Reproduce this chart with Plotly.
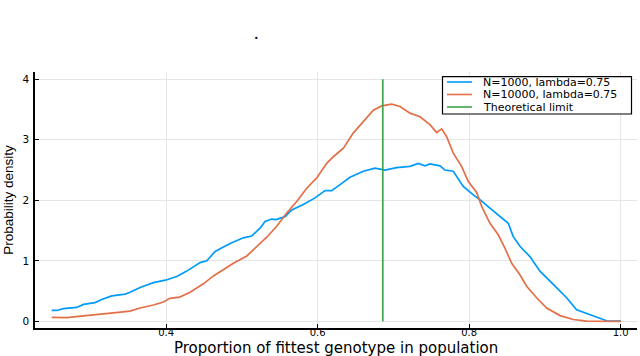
import plotly.graph_objects as go

# ---- Data ----
x_n1000 = [0.249, 0.256, 0.2645, 0.282, 0.291, 0.3063, 0.315, 0.3284, 0.346, 0.3525, 0.3657, 0.3833,
           0.399, 0.414, 0.4273, 0.438, 0.4449, 0.4537, 0.4647, 0.4756, 0.4867, 0.502, 0.513, 0.524,
           0.5306, 0.5394, 0.545, 0.557, 0.5658, 0.5811, 0.5877, 0.5966, 0.6098, 0.6186, 0.6296,
           0.6427, 0.6603, 0.6757, 0.6889, 0.7043, 0.7219, 0.7329, 0.7417, 0.7483, 0.7615, 0.768,
           0.779, 0.7922, 0.8055, 0.8143, 0.8274, 0.8406, 0.8516, 0.8582, 0.867, 0.8802, 0.8934,
           0.911, 0.9286, 0.9418, 0.955, 0.9726, 0.9814, 1.0]
y_n1000 = [0.18, 0.18, 0.21, 0.23, 0.28, 0.31, 0.36, 0.42, 0.45, 0.48, 0.56, 0.64,
           0.68, 0.74, 0.83, 0.92, 0.97, 1.00, 1.155, 1.23, 1.30, 1.38, 1.41, 1.54,
           1.65, 1.69, 1.68, 1.73, 1.84, 1.93, 1.98, 2.04, 2.16, 2.16, 2.26,
           2.38, 2.48, 2.53, 2.50, 2.54, 2.56, 2.61, 2.57, 2.60, 2.57, 2.50,
           2.48, 2.23, 2.09, 2.01, 1.87, 1.73, 1.62, 1.40, 1.24, 1.07, 0.83,
           0.61, 0.39, 0.19, 0.13, 0.04, 0.01, 0.005]

x_n10000 = [0.249, 0.269, 0.291, 0.317, 0.3305, 0.3525, 0.3657, 0.3833, 0.3965, 0.405, 0.418, 0.4317,
            0.444, 0.4492, 0.4625, 0.4756, 0.4888, 0.5065, 0.5197, 0.5329, 0.546, 0.5592, 0.5724,
            0.5856, 0.5988, 0.612, 0.6207, 0.634, 0.647, 0.6603, 0.6735, 0.6846, 0.6977, 0.7087,
            0.7219, 0.7351, 0.7483, 0.7571, 0.7637, 0.7703, 0.779, 0.790, 0.7989, 0.8099, 0.8165,
            0.8274, 0.8384, 0.8472, 0.8561, 0.867, 0.8759, 0.889, 0.9023, 0.92, 0.9374, 0.955, 1.0]
y_n10000 = [0.066, 0.06, 0.09, 0.115, 0.14, 0.17, 0.22, 0.27, 0.32, 0.38, 0.40, 0.48,
            0.58, 0.62, 0.75, 0.86, 0.96, 1.08, 1.24, 1.39, 1.57, 1.79, 1.98,
            2.20, 2.37, 2.61, 2.72, 2.86, 3.11, 3.30, 3.49, 3.56, 3.59, 3.55,
            3.44, 3.38, 3.25, 3.12, 3.18, 3.05, 2.78, 2.56, 2.31, 2.13, 1.90,
            1.62, 1.43, 1.21, 0.96, 0.77, 0.58, 0.39, 0.22, 0.095, 0.03, 0.005, 0.0]

theory_x = [0.686, 0.686]
theory_y = [0.0, 4.0]

series_names = ["N=1000, lambda=0.75", "N=10000, lambda=0.75", "Theoretical limit"]
x_ticks = [0.4, 0.6, 0.8, 1.0]
x_ticklabels = ["0.4", "0.6", "0.8", "1.0"]
y_ticks = [0, 1, 2, 3, 4]
x_title = "Proportion of fittest genotype in population"
y_title = "Probability density"

BLUE = "#009AFA"
RED = "#E36F47"
GREEN = "#3EA44E"
colors = [BLUE, RED, GREEN]

W, H = 640, 356
ML, MR, MT, MB = 35, 3, 72, 28

fig = go.Figure()
for xs, ys, name, col in [(x_n1000, y_n1000, series_names[0], BLUE),
                          (x_n10000, y_n10000, series_names[1], RED),
                          (theory_x, theory_y, series_names[2], GREEN)]:
    fig.add_trace(go.Scatter(x=xs, y=ys, mode="lines", name=name, showlegend=False,
                             line=dict(color=col, width=1.7)))


def px2paper(px, py):
    return (px - ML) / (W - ML - MR), (H - MB - py) / (H - MT - MB)


shapes = []
annotations = []
# legend box
bx0, by0 = px2paper(442.5, 76.7)
bx1, by1 = px2paper(631.5, 114)
shapes.append(dict(type="rect", xref="paper", yref="paper", x0=bx0, y0=by0, x1=bx1, y1=by1,
                   line=dict(color="black", width=1.2), fillcolor="white", layer="above"))
for i, (name, col) in enumerate(zip(series_names, colors)):
    ry = 82 + i * 12.5
    lx0, ly = px2paper(447, ry)
    lx1, _ = px2paper(472, ry)
    shapes.append(dict(type="line", xref="paper", yref="paper", x0=lx0, x1=lx1, y0=ly, y1=ly,
                       line=dict(color=col, width=1.6), layer="above"))
    tx, ty = px2paper(481, ry)
    annotations.append(dict(text=name, xref="paper", yref="paper", x=tx, y=ty,
                            xanchor="left", yanchor="middle", showarrow=False,
                            font=dict(family="DejaVu Sans", size=11, color="black")))

# x-axis title, placed precisely below the tick labels
ttx, tty = px2paper(336, 347.6)
annotations.append(dict(text=x_title, xref="paper", yref="paper", x=ttx, y=tty,
                        xanchor="center", yanchor="middle", showarrow=False, borderpad=0,
                        font=dict(family="DejaVu Sans", size=15, color="black")))

# stray period from the surrounding page
dx, dy = px2paper(256, 33)
annotations.append(dict(text=".", xref="paper", yref="paper", x=dx, y=dy,
                        xanchor="center", yanchor="middle", showarrow=False,
                        font=dict(family="Liberation Serif", size=18, color="black")))

fig.update_layout(
    width=W, height=H,
    margin=dict(l=ML, r=MR, t=MT, b=MB),
    paper_bgcolor="white", plot_bgcolor="white",
    font=dict(family="DejaVu Sans", size=11, color="black"),
    showlegend=False,
    shapes=shapes,
    annotations=annotations,
    xaxis=dict(range=[0.227, 1.0215], tickvals=x_ticks, ticktext=x_ticklabels,
               showgrid=True, gridcolor="#e6e6e6", gridwidth=1, zeroline=False,
               showline=True, linecolor="black", linewidth=1.5,
               ticks="inside", ticklen=4, tickcolor="black", ticklabelstandoff=-6,
               tickfont=dict(family="DejaVu Sans", size=10),
               automargin=False),
    yaxis=dict(range=[-0.11, 4.12], tickvals=y_ticks,
               showgrid=True, gridcolor="#e6e6e6", gridwidth=1, zeroline=False,
               showline=True, linecolor="black", linewidth=1.5,
               ticks="inside", ticklen=4, tickcolor="black", ticklabelstandoff=2,
               tickfont=dict(family="DejaVu Sans", size=10.5),
               title=dict(text=y_title,
                          font=dict(family="Liberation Sans", size=13.5),
                          standoff=6),
               automargin=False),
)

fig.write_html("out.html", config={"displayModeBar": False},
               post_script="document.body.style.margin='0px';")
